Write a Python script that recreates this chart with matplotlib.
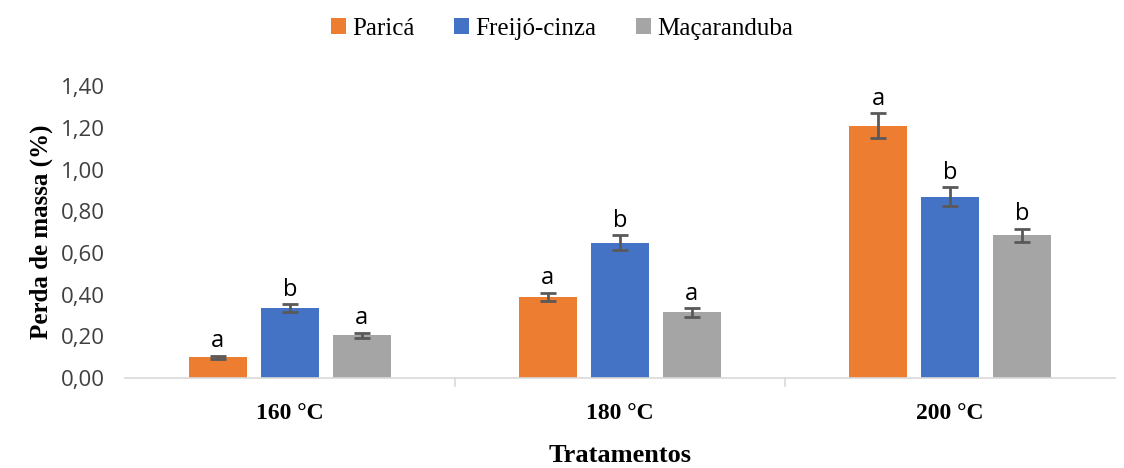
import matplotlib.pyplot as plt
import numpy as np

tratamentos = ["160 °C", "180 °C", "200 °C"]
especies = ["Paricá", "Freijó-cinza", "Maçaranduba"]
cores = ["#ED7D31", "#4472C4", "#A5A5A5"]

perda = {
    "Paricá": [0.10, 0.39, 1.21],
    "Freijó-cinza": [0.335, 0.65, 0.87],
    "Maçaranduba": [0.205, 0.315, 0.685],
}
erro = {
    "Paricá": [0.008, 0.02, 0.06],
    "Freijó-cinza": [0.02, 0.035, 0.045],
    "Maçaranduba": [0.012, 0.02, 0.03],
}
letras = {
    "Paricá": ["a", "a", "a"],
    "Freijó-cinza": ["b", "b", "b"],
    "Maçaranduba": ["a", "a", "b"],
}

serif = "Liberation Serif"
sans = "Open Sans"

fig = plt.figure(figsize=(11.24, 4.68), dpi=100)
ax = fig.add_axes([0.111, 0.192, 0.881, 0.624])

x = np.arange(len(tratamentos))
passo = 0.218
largura = 0.176

for i, esp in enumerate(especies):
    pos = x + (i - 1) * passo
    ax.bar(pos, perda[esp], largura, color=cores[i], label=esp, zorder=2)
    ax.errorbar(pos, perda[esp], yerr=erro[esp], fmt="none", ecolor="#595959",
                elinewidth=2, capsize=6, capthick=2, zorder=3)
    for p, v, e, l in zip(pos, perda[esp], erro[esp], letras[esp]):
        ax.text(p, v + e + 0.012, l, ha="center", va="bottom", fontsize=17,
                family=sans, color="black")

ax.set_xlim(-0.5, 2.5)
ax.set_ylim(0, 1.4)
ax.set_yticks(np.arange(0, 1.41, 0.2))
ax.set_yticklabels([f"{v:.2f}".replace(".", ",") for v in np.arange(0, 1.41, 0.2)],
                   family=sans, fontsize=16, color="#404040")
ax.set_xticks(x)
ax.set_xticklabels(tratamentos, family=serif, fontsize=17, fontweight="bold")
ax.tick_params(axis="x", length=0, pad=18)
ax.tick_params(axis="y", length=0, pad=14)

for s in ["top", "right", "left"]:
    ax.spines[s].set_visible(False)
ax.spines["bottom"].set_color("#D9D9D9")
ax.spines["bottom"].set_linewidth(1.2)
for b in [0.5, 1.5]:
    ax.plot([b, b], [0, -0.04], color="#D9D9D9", lw=1.2, clip_on=False)

ax.set_ylabel("Perda de massa (%)", family=serif, fontsize=18, fontweight="bold", labelpad=6)
ax.set_xlabel("Tratamentos", family=serif, fontsize=19, fontweight="bold", labelpad=14)

fig.legend(loc="upper center", bbox_to_anchor=(0.5, 1.01), ncol=3, frameon=False,
           prop={"family": serif, "size": 18}, handlelength=0.6, handleheight=0.6,
           handletextpad=0.25, columnspacing=1.6)

fig.savefig("out.png", dpi=100)
